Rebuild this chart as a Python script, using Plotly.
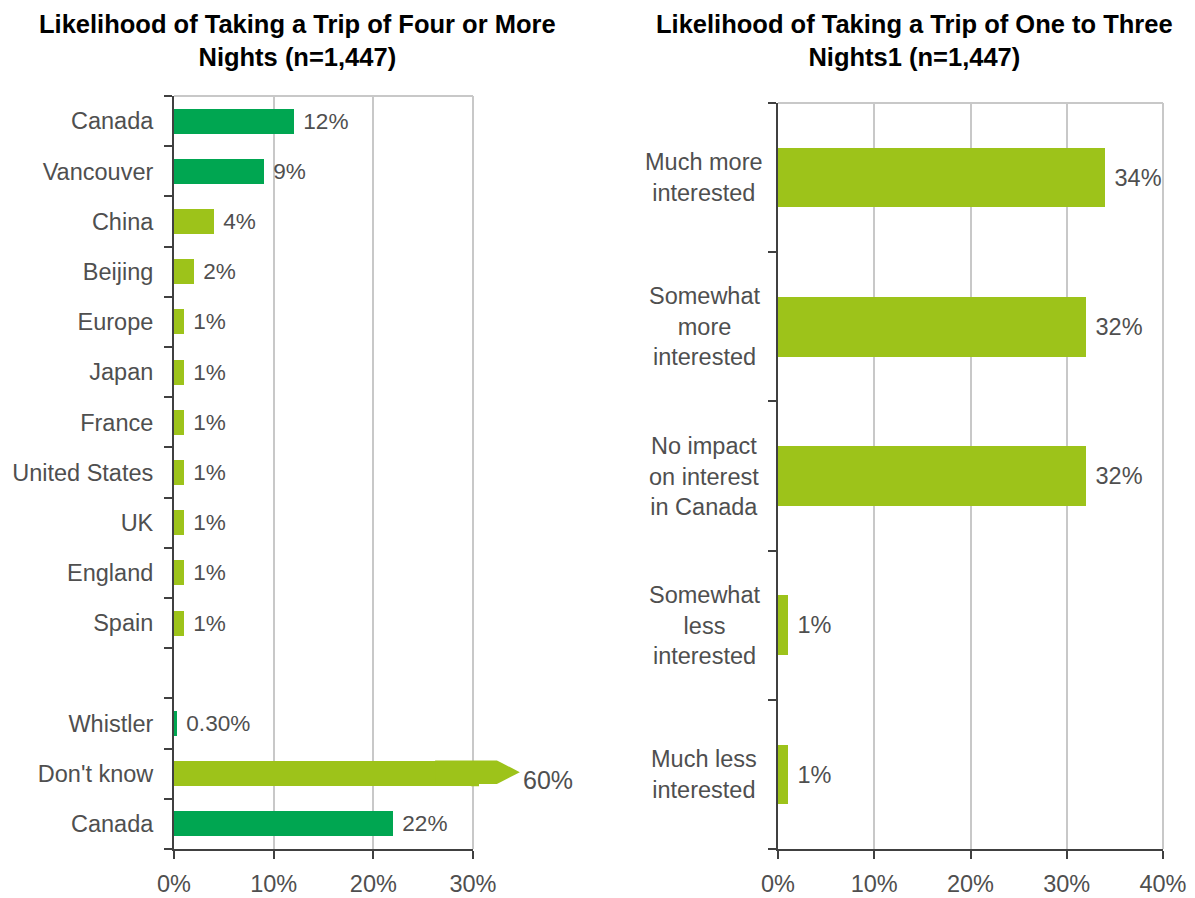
import plotly.graph_objects as go

# ---- data ---------------------------------------------------------------
four_plus_labels = ["Canada", "Vancouver", "China", "Beijing", "Europe", "Japan",
                    "France", "United States", "UK", "England", "Spain", "",
                    "Whistler", "Don't know", "Canada"]
four_plus_values = [12, 9, 4, 2, 1, 1, 1, 1, 1, 1, 1, None, 0.3, 60, 22]

one_to_three_labels = ["Much more<br>interested", "Somewhat<br>more<br>interested",
                       "No impact<br>on interest<br>in Canada", "Somewhat<br>less<br>interested",
                       "Much less<br>interested"]
one_to_three_values = [34, 32, 32, 1, 1]

left_ticks = [0, 10, 20, 30]
right_ticks = [0, 10, 20, 30, 40]

# ---- style --------------------------------------------------------------
DARK = "#00A651"
LIGHT = "#9DC31A"
four_plus_colors = [DARK, DARK, LIGHT, LIGHT, LIGHT, LIGHT, LIGHT, LIGHT, LIGHT,
                    LIGHT, LIGHT, LIGHT, DARK, LIGHT, DARK]
AXIS = "#404040"
GRID = "#C8C8C8"
TXT = "#4f4f4f"
FONT = "Liberation Sans"
FS = 23.5
W, H = 1195, 898

L_DOM_X = [174 / W, 473 / W]
L_DOM_Y = [49 / H, 802 / H]
R_DOM_X = [778 / W, 1163 / W]
R_DOM_Y = [49 / H, 795 / H]
L_RANGE = [0, 30]
R_RANGE = [0, 40]
L_YR = [len(four_plus_labels) - 0.5, -0.5]
R_YR = [len(one_to_three_labels) - 0.5, -0.5]


def fmt(v):
    if v is None:
        return ""
    return f"{v:.2f}%" if v < 1 else f"{v:.0f}%"


def px_x(v, dom, rng):
    return dom[0] + (v - rng[0]) / (rng[1] - rng[0]) * (dom[1] - dom[0])


def px_y(c, dom, rng):
    return dom[0] + (c - rng[0]) / (rng[1] - rng[0]) * (dom[1] - dom[0])


# values past the axis end get their label at an arrow instead
left_text = ["\u00a0" + fmt(v) if (v is not None and v <= L_RANGE[1]) else "" for v in four_plus_values]
right_text = ["\u00a0" + fmt(v) for v in one_to_three_values]

tfont = dict(family=FONT, size=FS, color=TXT)

fig = go.Figure()
fig.add_trace(go.Bar(
    x=four_plus_values, y=list(range(len(four_plus_labels))), orientation="h",
    marker=dict(color=four_plus_colors, line=dict(width=0)), width=0.5,
    text=left_text, textposition="outside", cliponaxis=False, textfont=tfont,
    xaxis="x", yaxis="y", showlegend=False, hoverinfo="skip"))
fig.add_trace(go.Bar(
    x=one_to_three_values, y=list(range(len(one_to_three_labels))), orientation="h",
    marker=dict(color=LIGHT, line=dict(width=0)), width=0.4,
    text=right_text, textposition="outside", cliponaxis=False, textfont=tfont,
    xaxis="x2", yaxis="y2", showlegend=False, hoverinfo="skip"))

xcommon = dict(showgrid=True, gridcolor=GRID, gridwidth=2, showline=True, linecolor=AXIS,
               linewidth=2, ticks="outside", ticklen=8, tickwidth=2, tickcolor=AXIS,
               zeroline=False, tickmode="array", automargin=False, ticklabelstandoff=5,
               tickfont=tfont)
ycommon = dict(showgrid=False, showline=True, linecolor=AXIS, linewidth=2, zeroline=False,
               ticks="outside", ticklen=8, tickcolor="rgba(0,0,0,0)", tickmode="array",
               automargin=False, tickfont=tfont)

fig.update_layout(
    width=W, height=H, margin=dict(l=0, r=0, t=0, b=0, autoexpand=False),
    paper_bgcolor="white", plot_bgcolor="white", bargap=0,
    xaxis=dict(domain=L_DOM_X, range=L_RANGE, tickvals=left_ticks,
               ticktext=[f"{t}%" for t in left_ticks], anchor="y", **xcommon),
    yaxis=dict(domain=L_DOM_Y, range=L_YR, tickvals=list(range(len(four_plus_labels))),
               ticktext=four_plus_labels, anchor="x", ticklabelstandoff=6,
               minor=dict(tickvals=[i - 0.5 for i in range(len(four_plus_labels) + 1)],
                          ticks="outside", ticklen=8, tickwidth=2, tickcolor=AXIS, showgrid=False),
               **ycommon),
    xaxis2=dict(domain=R_DOM_X, range=R_RANGE, tickvals=right_ticks,
                ticktext=[f"{t}%" for t in right_ticks], anchor="y2", **xcommon),
    yaxis2=dict(domain=R_DOM_Y, range=R_YR, tickvals=list(range(len(one_to_three_labels))),
                showticklabels=False, anchor="x2",
                minor=dict(tickvals=[i - 0.5 for i in range(len(one_to_three_labels) + 1)],
                           ticks="outside", ticklen=8, tickwidth=2, tickcolor=AXIS, showgrid=False),
                **ycommon),
)

shapes = []
# grey frame along the top and right of each plot
for xr, yr in (("x domain", "y domain"), ("x2 domain", "y2 domain")):
    shapes.append(dict(type="line", xref=xr, yref=yr, x0=0, x1=1, y0=1, y1=1,
                       line=dict(color=GRID, width=2), layer="below"))
    shapes.append(dict(type="line", xref=xr, yref=yr, x0=1, x1=1, y0=0, y1=1,
                       line=dict(color=GRID, width=2), layer="below"))

# arrow marking a bar that runs past the axis end
annotations = []
yspan = L_DOM_Y[1] - L_DOM_Y[0]
ncat = L_YR[0] - L_YR[1]
for i, v in enumerate(four_plus_values):
    if v is None or v <= L_RANGE[1]:
        continue
    xs, xe, xt, xbar = 26.2, 32.4, 34.7, 30.6
    yb = px_y(i, L_DOM_Y, L_YR)
    yc = px_y(i - 0.03, L_DOM_Y, L_YR)
    half = 0.235 / ncat * yspan
    bar_half = 0.25 / ncat * yspan
    stub = (f"M {px_x(L_RANGE[1] - 0.2, L_DOM_X, L_RANGE)} {yb - bar_half} "
            f"L {px_x(xbar, L_DOM_X, L_RANGE)} {yb - bar_half} "
            f"L {px_x(xbar, L_DOM_X, L_RANGE)} {yb + bar_half} "
            f"L {px_x(L_RANGE[1] - 0.2, L_DOM_X, L_RANGE)} {yb + bar_half} Z")
    head = (f"M {px_x(xs, L_DOM_X, L_RANGE)} {yc - half} "
            f"L {px_x(xe, L_DOM_X, L_RANGE)} {yc - half} "
            f"L {px_x(xt, L_DOM_X, L_RANGE)} {yc} "
            f"L {px_x(xe, L_DOM_X, L_RANGE)} {yc + half} "
            f"L {px_x(xs, L_DOM_X, L_RANGE)} {yc + half} Z")
    for p in (stub, head):
        shapes.append(dict(type="path", xref="paper", yref="paper", path=p,
                           fillcolor=four_plus_colors[i], line=dict(width=0), layer="above"))
    annotations.append(dict(xref="paper", yref="paper", x=px_x(xt, L_DOM_X, L_RANGE) + 1 / W,
                            y=px_y(i + 0.12, L_DOM_Y, L_YR), xanchor="left", yanchor="middle",
                            text=fmt(v), showarrow=False,
                            font=dict(family=FONT, size=FS + 1.5, color=TXT)))

# category labels of the right plot, centred
for i, lab in enumerate(one_to_three_labels):
    annotations.append(dict(xref="paper", yref="y2", x=704 / W, y=i, xanchor="center",
                            yanchor="middle", align="center", text=lab, showarrow=False,
                            font=tfont))

# titles
TFONT = dict(family="Liberation Sans", size=25.5, color="black")
annotations.append(dict(xref="paper", yref="paper", x=297 / W, y=1 - 41 / H, xanchor="center",
                        yanchor="middle", align="center", showarrow=False, font=TFONT,
                        text="<b>Likelihood of Taking a Trip of Four or More<br>Nights (n=1,447)</b>"))
annotations.append(dict(xref="paper", yref="paper", x=914 / W, y=1 - 41 / H, xanchor="center",
                        yanchor="middle", align="center", showarrow=False, font=TFONT,
                        text="<b>Likelihood of Taking a Trip of One to Three<br>Nights1 (n=1,447)</b>"))

fig.update_layout(shapes=shapes, annotations=annotations)
fig.write_html("out.html")
